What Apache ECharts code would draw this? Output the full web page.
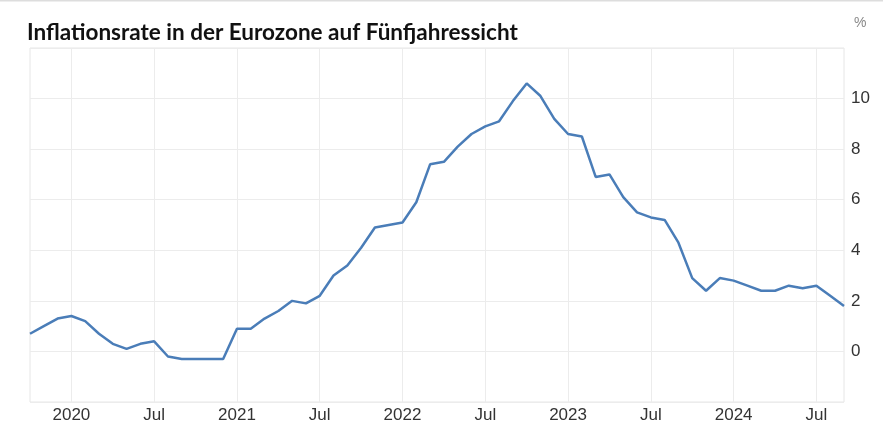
<!DOCTYPE html>
<html>
<head>
<meta charset="utf-8">
<script src="https://cdn.jsdelivr.net/npm/echarts@6/dist/echarts.min.js"></script>
<style>
html,body{margin:0;padding:0;background:#fff;}
#chart{width:883px;height:442px;}
</style>
</head>
<body>
<div id="chart"></div>
<script>
const titleText = 'Inflationsrate in der Eurozone auf Fünfjahressicht';
const unitLabel = '%';
const months = [
  '2019-10','2019-11','2019-12',
  '2020-01','2020-02','2020-03','2020-04','2020-05','2020-06','2020-07','2020-08','2020-09','2020-10','2020-11','2020-12',
  '2021-01','2021-02','2021-03','2021-04','2021-05','2021-06','2021-07','2021-08','2021-09','2021-10','2021-11','2021-12',
  '2022-01','2022-02','2022-03','2022-04','2022-05','2022-06','2022-07','2022-08','2022-09','2022-10','2022-11','2022-12',
  '2023-01','2023-02','2023-03','2023-04','2023-05','2023-06','2023-07','2023-08','2023-09','2023-10','2023-11','2023-12',
  '2024-01','2024-02','2024-03','2024-04','2024-05','2024-06','2024-07','2024-08','2024-09'
];
const inflation = [
  0.7, 1.0, 1.3,
  1.4, 1.2, 0.7, 0.3, 0.1, 0.3, 0.4, -0.2, -0.3, -0.3, -0.3, -0.3,
  0.9, 0.9, 1.3, 1.6, 2.0, 1.9, 2.2, 3.0, 3.4, 4.1, 4.9, 5.0,
  5.1, 5.9, 7.4, 7.5, 8.1, 8.6, 8.9, 9.1, 9.9, 10.6, 10.1, 9.2,
  8.6, 8.5, 6.9, 7.0, 6.1, 5.5, 5.3, 5.2, 4.3, 2.9, 2.4, 2.9,
  2.8, 2.6, 2.4, 2.4, 2.6, 2.5, 2.6, 2.2, 1.8
];
const midYearLabel = 'Jul';
const yTicks = [0, 2, 4, 6, 8, 10];

const isTick = (v) => { const m = v.slice(5); return m === '01' || m === '07'; };

const chart = echarts.init(document.getElementById('chart'), null, {renderer: 'canvas'});
chart.setOption({
  animation: false,
  backgroundColor: '#ffffff',
  title: {
    text: titleText,
    left: 22,
    top: 16,
    textStyle: {fontFamily: 'Lato', fontWeight: 'bold', fontSize: 22.5, color: '#111111'}
  },
  graphic: [
    {type: 'line', shape: {x1: 0, y1: 0.5, x2: 883, y2: 0.5}, style: {stroke: '#dddddd', lineWidth: 2}, silent: true},
    {type: 'text', left: 854, top: 16, style: {text: unitLabel, fontFamily: 'Liberation Sans', fontSize: 14, fill: '#888888'}, silent: true}
  ],
  grid: {
    left: 30, right: 39, top: 48, bottom: 40,
    show: true, borderColor: '#e6e6e6', borderWidth: 1, backgroundColor: 'transparent'
  },
  xAxis: {
    type: 'category',
    data: months,
    boundaryGap: false,
    axisLine: {show: false},
    axisTick: {show: false},
    axisLabel: {
      interval: (i, v) => isTick(v),
      formatter: (v) => v.slice(5) === '01' ? v.slice(0, 4) : midYearLabel,
      fontFamily: 'Liberation Sans', fontSize: 17, color: '#333333', margin: 5
    },
    splitLine: {show: true, interval: (i, v) => isTick(v), lineStyle: {color: '#ececec', width: 1}}
  },
  yAxis: {
    type: 'value',
    position: 'right',
    min: -2, max: 12, interval: 2,
    axisLine: {show: false},
    axisTick: {show: false},
    axisLabel: {
      formatter: (v) => yTicks.indexOf(v) >= 0 ? String(v) : '',
      fontFamily: 'Liberation Sans', fontSize: 17, color: '#333333', margin: 7
    },
    splitLine: {show: true, lineStyle: {color: '#ececec', width: 1}}
  },
  series: [{
    type: 'line',
    data: inflation,
    symbol: 'none',
    smooth: false,
    lineStyle: {color: '#4a7db8', width: 2.5},
    itemStyle: {color: '#4a7db8'}
  }]
});
</script>
</body>
</html>
